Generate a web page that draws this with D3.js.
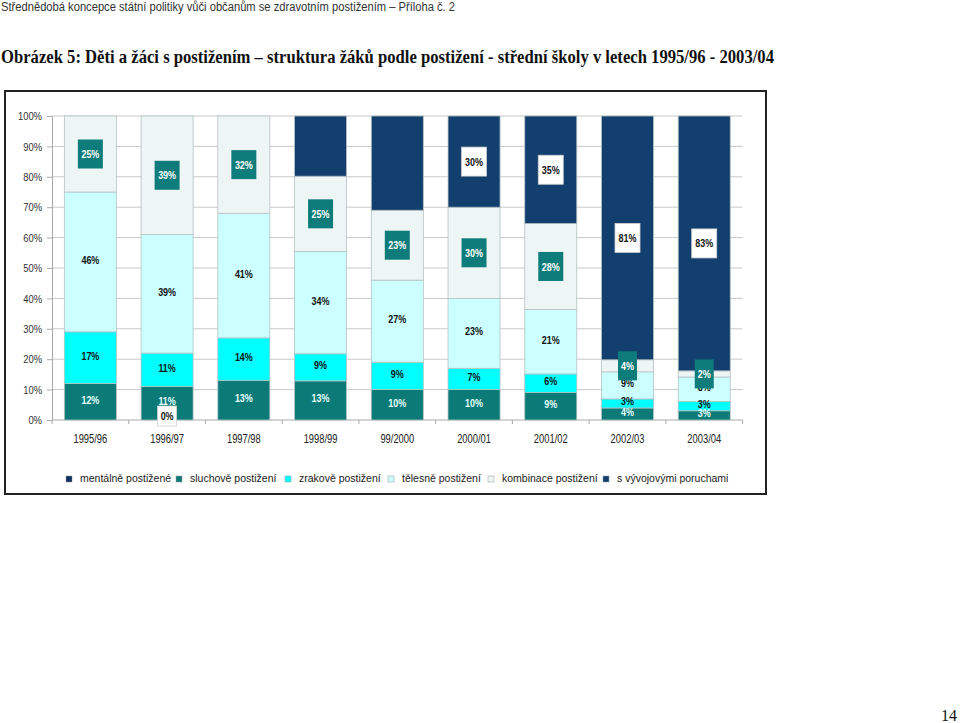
<!DOCTYPE html>
<html>
<head>
<meta charset="utf-8">
<script src="https://cdn.jsdelivr.net/npm/d3@7"></script>
<style>
  body { margin: 0; background: #fff; }
  svg { display: block; }
</style>
</head>
<body>
<div id="chart"></div>
<script>
// Struktura žáků podle postižení - střední školy 1995/96 - 2003/04
const years = ["1995/96", "1996/97", "1997/98", "1998/99", "99/2000", "2000/01", "2001/02", "2002/03", "2003/04"];
const mentalne = [null, 0, null, null, null, null, null, null, null];
const sluchove = [12, 11, 13, 13, 10, 10, 9, 4, 3];
const zrakove = [17, 11, 14, 9, 9, 7, 6, 3, 3];
const telesne = [46, 39, 41, 34, 27, 23, 21, 9, 8];
const kombinace = [25, 39, 32, 25, 23, 30, 28, 4, 2];
const vyvojove = [null, null, null, 20, 31, 30, 35, 81, 83];
const y_ticks = [0, 0.1, 0.2, 0.3, 0.4, 0.5, 0.6, 0.7, 0.8, 0.9, 1];
// labels that the original does not show
const unlabeled = [["vyvojove", "1998/99"], ["vyvojove", "99/2000"]];

const series = [
    { key: "mentalne", name: "mentálně postižené", values: mentalne, color: "#0d2f5e", label: "box-white" },
    { key: "sluchove", name: "sluchově postižení", values: sluchove, color: "#0c7b78", label: "light" },
    { key: "zrakove", name: "zrakově postižení", values: zrakove, color: "#00ffff", label: "dark" },
    { key: "telesne", name: "tělesně postižení", values: telesne, color: "#ccffff", label: "dark" },
    { key: "kombinace", name: "kombinace postižení", values: kombinace, color: "#eef5f5", label: "box-teal" },
    { key: "vyvojove", name: "s vývojovými poruchami", values: vyvojove, color: "#123f6e", label: "box-white" }
];

const table = years.map((yr, i) => {
    const row = { year: yr };
    series.forEach(s => { row[s.key] = s.values[i]; });
    return row;
});

const width = 960, height = 723;
const plot = { left: 52, right: 742.6, top: 116, bottom: 420 };
const sans = "'Liberation Sans', Arial, sans-serif";
const squeeze = 0.78; // the original uses a narrow face

const svg = d3.select("#chart").append("svg")
    .attr("width", width)
    .attr("height", height);

// header texts
svg.append("text")
    .attr("x", 1).attr("y", 11)
    .attr("textLength", 454)
    .attr("lengthAdjust", "spacingAndGlyphs")
    .style("font-family", sans)
    .style("font-size", "12px")
    .style("fill", "#333")
    .text("Střednědobá koncepce státní politiky vůči občanům se zdravotním postižením – Příloha č. 2");

svg.append("text")
    .attr("x", 1).attr("y", 63)
    .attr("textLength", 773)
    .attr("lengthAdjust", "spacingAndGlyphs")
    .style("font-family", "'Liberation Serif', 'Times New Roman', serif")
    .style("font-size", "18.5px")
    .style("font-weight", "bold")
    .style("fill", "#111")
    .text("Obrázek 5: Děti a žáci s postižením – struktura žáků podle postižení - střední školy v letech 1995/96 - 2003/04");

svg.append("text")
    .attr("x", 957).attr("y", 721)
    .attr("text-anchor", "end")
    .style("font-family", "'Liberation Serif', 'Times New Roman', serif")
    .style("font-size", "16px")
    .style("fill", "#111")
    .text("14");

// frame around the chart
svg.append("rect")
    .attr("x", 5).attr("y", 91)
    .attr("width", 761).attr("height", 403)
    .attr("fill", "none")
    .attr("stroke", "#222")
    .attr("stroke-width", 2);

const x = d3.scaleBand()
    .domain(years)
    .range([plot.left, plot.right])
    .paddingInner(0.322)
    .paddingOuter(0.161);

const y = d3.scaleLinear()
    .domain([0, 1])
    .range([plot.bottom, plot.top]);

// grid
svg.append("g")
    .selectAll("line")
    .data(y_ticks.filter(t => t > 0))
    .join("line")
    .attr("x1", plot.left).attr("x2", plot.right)
    .attr("y1", d => y(d)).attr("y2", d => y(d))
    .attr("stroke", "#c8c8c8")
    .attr("stroke-width", 1);

// y axis
const y_axis = svg.append("g")
    .attr("transform", `translate(${plot.left},0)`)
    .call(d3.axisLeft(y).tickValues(y_ticks).tickFormat(d3.format(".0%")).tickSize(5).tickPadding(5));
y_axis.selectAll("line, path").attr("stroke", "#aaa");
y_axis.selectAll("text")
    .attr("x", 0)
    .attr("transform", `translate(-10,0) scale(${squeeze + 0.04},1)`)
    .style("font-family", sans)
    .style("font-size", "11.5px")
    .style("fill", "#333");

// x axis, ticks between categories
const x_axis = svg.append("g")
    .attr("transform", `translate(0,${plot.bottom})`);
x_axis.append("line")
    .attr("x1", plot.left).attr("x2", plot.right)
    .attr("stroke", "#aaa");
const step = x.step();
x_axis.selectAll("line.tick")
    .data(d3.range(years.length + 1))
    .join("line")
    .attr("class", "tick")
    .attr("x1", i => plot.left + i * step).attr("x2", i => plot.left + i * step)
    .attr("y1", 0).attr("y2", 4)
    .attr("stroke", "#aaa");
x_axis.selectAll("text")
    .data(years)
    .join("text")
    .attr("transform", d => `translate(${x(d) + x.bandwidth() / 2},23) scale(${squeeze},1)`)
    .attr("text-anchor", "middle")
    .style("font-family", sans)
    .style("font-size", "12px")
    .style("fill", "#222")
    .text(d => d);

// stacked bars
const stack = d3.stack()
    .keys(series.map(s => s.key))
    .value((d, k) => d[k] || 0)
    .offset(d3.stackOffsetExpand);
const stacked = stack(table);

const bars = svg.append("g");
stacked.forEach((layer, li) => {
    const s = series[li];
    bars.append("g")
        .selectAll("rect")
        .data(layer.filter(d => d[1] - d[0] > 0))
        .join("rect")
        .attr("x", d => x(d.data.year))
        .attr("width", x.bandwidth())
        .attr("y", d => y(d[1]))
        .attr("height", d => y(d[0]) - y(d[1]))
        .attr("fill", s.color)
        .attr("stroke", "#b4c2c2")
        .attr("stroke-width", 0.8);
});

// data labels
const labels = svg.append("g");
stacked.forEach((layer, li) => {
    const s = series[li];
    layer.forEach(d => {
        const v = d.data[s.key];
        if (v === null || v === undefined) return;
        if (unlabeled.some(u => u[0] === s.key && u[1] === d.data.year)) return;
        const cx = x(d.data.year) + x.bandwidth() / 2;
        const boxed = s.label === "box-teal" || s.label === "box-white";
        const cy = Math.min(y((d[0] + d[1]) / 2) - (boxed ? 0 : 2), plot.bottom - 4);
        const txt = v + "%";
        const g = labels.append("g").attr("transform", `translate(${cx},${cy})`);
        if (boxed) {
            const bw = txt.length === 2 ? 19 : 25;
            const bh = v === 0 ? 20 : 29;
            g.append("rect")
                .attr("x", -bw / 2).attr("y", -bh / 2)
                .attr("width", bw).attr("height", bh)
                .attr("fill", s.label === "box-teal" ? "#0e7c7a" : "#fff")
                .attr("stroke", s.label === "box-teal" ? "none" : "#d0d0d0")
                .attr("stroke-width", 0.8);
        }
        g.append("text")
            .attr("text-anchor", "middle")
            .attr("dy", "0.35em")
            .attr("transform", `scale(${squeeze},1)`)
            .style("font-family", sans)
            .style("font-size", "11.5px")
            .style("font-weight", "bold")
            .style("fill", s.label === "light" ? "#e4ffff" : s.label === "box-teal" ? "#fff" : "#111")
            .text(txt);
    });
});

// legend
const legend_x = [66, 176, 285, 388, 488, 603];
const legend = svg.append("g").attr("transform", "translate(0,476)");
series.forEach((s, i) => {
    legend.append("rect")
        .attr("x", legend_x[i]).attr("y", 0)
        .attr("width", 6).attr("height", 6)
        .attr("fill", s.color)
        .attr("stroke", "#999")
        .attr("stroke-width", 0.5);
    legend.append("text")
        .attr("x", legend_x[i] + 14).attr("y", 6)
        .style("font-family", sans)
        .style("font-size", "10.5px")
        .style("fill", "#222")
        .text(s.name);
});
</script>
</body>
</html>
